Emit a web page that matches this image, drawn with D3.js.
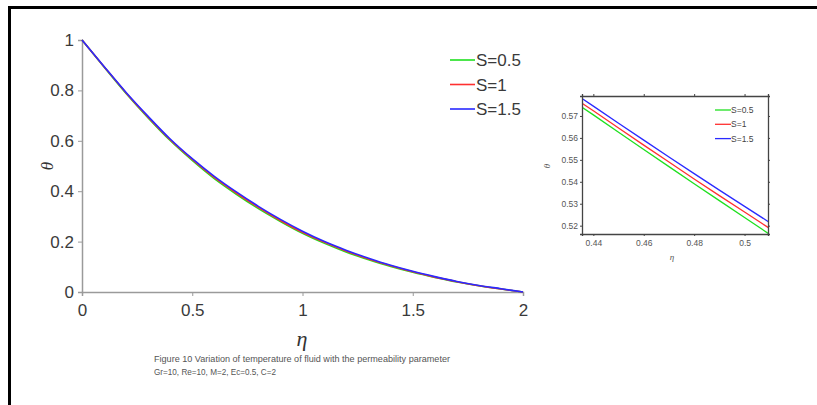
<!DOCTYPE html>
<html>
<head>
<meta charset="utf-8">
<script src="https://cdn.jsdelivr.net/npm/d3@7"></script>
<style>
  html, body { margin: 0; padding: 0; background: #fff; overflow: hidden; width: 817px; height: 405px; }
  svg { display: block; font-family: "Liberation Sans", Arial, sans-serif; }
</style>
</head>
<body>
<svg id="chart" width="817" height="405"></svg>
<script>
// Temperature profile θ(η) for three values of the permeability parameter S
const eta = [0, 0.1, 0.2, 0.3, 0.4, 0.5, 0.6, 0.7, 0.8, 0.9, 1.0,
             1.1, 1.2, 1.3, 1.4, 1.5, 1.6, 1.7, 1.8, 1.9, 2.0];
const thetaS05 = [1.000, 0.893, 0.788, 0.691, 0.601, 0.522, 0.450, 0.388, 0.331, 0.280, 0.233,
                  0.193, 0.158, 0.128, 0.101, 0.078, 0.058, 0.040, 0.025, 0.012, 0.000];
const thetaS1  = [1.000, 0.894, 0.790, 0.694, 0.604, 0.526, 0.455, 0.393, 0.336, 0.284, 0.237,
                  0.197, 0.162, 0.131, 0.104, 0.080, 0.059, 0.041, 0.025, 0.012, 0.000];
const thetaS15 = [1.000, 0.895, 0.792, 0.697, 0.607, 0.529, 0.459, 0.397, 0.340, 0.288, 0.241,
                  0.200, 0.165, 0.134, 0.106, 0.082, 0.061, 0.042, 0.026, 0.013, 0.000];

// Zoomed view around η ≈ 0.47
const etaZoom = [0.43, 0.44, 0.45, 0.46, 0.47, 0.48, 0.49, 0.50, 0.51];
const zoomS05 = [0.5783, 0.5705, 0.5626, 0.5547, 0.5469, 0.5391, 0.5314, 0.5237, 0.5160];
const zoomS1  = [0.5800, 0.5724, 0.5645, 0.5567, 0.5490, 0.5413, 0.5337, 0.5262, 0.5187];
const zoomS15 = [0.5821, 0.5745, 0.5667, 0.5590, 0.5513, 0.5437, 0.5362, 0.5288, 0.5214];

const seriesLabels = ["S=0.5", "S=1", "S=1.5"];
const seriesColors = ["#1fe01f", "#ff3030", "#2a2aff"];

const xTicks = [0, 0.5, 1, 1.5, 2];
const yTicks = [0, 0.2, 0.4, 0.6, 0.8, 1];
const xTicksZoom = [0.44, 0.46, 0.48, 0.5];
const yTicksZoom = [0.52, 0.53, 0.54, 0.55, 0.56, 0.57];

const captionLines = [
  "Figure 10 Variation of temperature of fluid with the permeability parameter",
  "Gr=10, Re=10, M=2, Ec=0.5, C=2"
];

const svg = d3.select("#chart");

// page background
svg.append("rect").attr("x", 0).attr("y", 0).attr("width", 817).attr("height", 405).attr("fill", "#fff");

// outer frame (top and left edges fall inside the page)
svg.append("path")
  .attr("d", "M9.5,420 V7.5 H830")
  .attr("fill", "none").attr("stroke", "#000").attr("stroke-width", 3);

// ---------- main panel ----------
const x = d3.scaleLinear().domain([0, 2]).range([82, 523]);
const y = d3.scaleLinear().domain([0, 1]).range([292, 40]);

const axisColor = "#9a9a9a";
const labelColor = "#3a3a3a";

const gx = svg.append("g").attr("transform", `translate(0,${y(0)})`)
  .call(d3.axisBottom(x).tickValues(xTicks).tickFormat(d3.format("")).tickSize(4).tickPadding(8));
const gy = svg.append("g").attr("transform", `translate(${x(0)},0)`)
  .call(d3.axisLeft(y).tickValues(yTicks).tickFormat(d3.format("")).tickSize(4).tickPadding(4));
[gx, gy].forEach(g => {
  g.select(".domain").attr("stroke", axisColor).attr("stroke-width", 1.5);
  g.selectAll(".tick line").attr("stroke", axisColor);
  g.selectAll(".tick text").attr("fill", labelColor).attr("font-size", 17)
    .attr("font-family", "Liberation Sans, Arial, sans-serif");
});

const mainData = [thetaS05, thetaS1, thetaS15];
const line = d3.line().x((d, i) => x(eta[i])).y(d => y(d)).curve(d3.curveMonotoneX);
mainData.forEach((vals, k) => {
  svg.append("path").datum(vals)
    .attr("d", line).attr("fill", "none")
    .attr("stroke", seriesColors[k]).attr("stroke-width", 1.6);
});

// axis titles
svg.append("text").attr("x", 302).attr("y", 346)
  .attr("text-anchor", "middle").attr("font-size", 22).attr("font-style", "italic")
  .attr("font-family", "Liberation Serif, serif").attr("fill", "#333").text("η");
svg.append("text").attr("transform", "translate(53,166) rotate(-90)")
  .attr("text-anchor", "middle").attr("font-size", 17).attr("font-style", "italic")
  .attr("font-family", "Liberation Serif, serif").attr("fill", "#333").text("θ");

// legend
const legend = svg.append("g");
seriesLabels.forEach((lab, k) => {
  const ly = 60 + k * 24.5;
  legend.append("line").attr("x1", 450).attr("x2", 475).attr("y1", ly).attr("y2", ly)
    .attr("stroke", seriesColors[k]).attr("stroke-width", 1.6);
  legend.append("text").attr("x", 476).attr("y", ly + 6)
    .attr("font-size", 17).attr("fill", labelColor).text(lab);
});

// caption
captionLines.forEach((t, i) => {
  const txt = svg.append("text").attr("x", 154).attr("y", 362 + i * 13)
    .attr("font-size", 9).attr("fill", "#555").text(t);
  if (i === 0) txt.attr("textLength", 296).attr("lengthAdjust", "spacingAndGlyphs");
  else txt.attr("textLength", 122).attr("lengthAdjust", "spacingAndGlyphs");
});

// ---------- inset panel ----------
const xi = d3.scaleLinear().domain([0.4355, 0.5093]).range([582, 768]);
const yi = d3.scaleLinear().domain([0.5162, 0.5791]).range([234, 96]);

svg.append("clipPath").attr("id", "insetClip")
  .append("rect").attr("x", 582).attr("y", 96).attr("width", 186).attr("height", 138);

const insetData = [zoomS05, zoomS1, zoomS15];
const lineZ = d3.line().x((d, i) => xi(etaZoom[i])).y(d => yi(d));
const gLines = svg.append("g").attr("clip-path", "url(#insetClip)");
insetData.forEach((vals, k) => {
  gLines.append("path").datum(vals).attr("d", lineZ).attr("fill", "none")
    .attr("stroke", seriesColors[k]).attr("stroke-width", 1.3);
});

const insetAxisColor = "#444";
const gxi = svg.append("g").attr("transform", `translate(0,234)`)
  .call(d3.axisBottom(xi).tickValues(xTicksZoom).tickFormat(d3.format("")).tickSize(2).tickPadding(4));
const gxiTop = svg.append("g").attr("transform", `translate(0,96)`)
  .call(d3.axisTop(xi).tickValues(xTicksZoom).tickFormat("").tickSize(2));
const gyi = svg.append("g").attr("transform", `translate(582,0)`)
  .call(d3.axisLeft(yi).tickValues(yTicksZoom).tickFormat(d3.format("")).tickSize(2).tickPadding(2));
const gyiRight = svg.append("g").attr("transform", `translate(768,0)`)
  .call(d3.axisRight(yi).tickValues(yTicksZoom).tickFormat("").tickSize(2));
[gxi, gxiTop, gyi, gyiRight].forEach(g => {
  g.select(".domain").attr("stroke", insetAxisColor).attr("stroke-width", 1.3);
  g.selectAll(".tick line").attr("stroke", insetAxisColor);
  g.selectAll(".tick text").attr("fill", "#555").attr("font-size", 8.5)
    .attr("font-family", "Liberation Sans, Arial, sans-serif");
});

svg.append("text").attr("x", 672).attr("y", 260).attr("text-anchor", "middle")
  .attr("font-size", 9).attr("font-style", "italic").attr("fill", "#555")
  .attr("font-family", "Liberation Serif, serif").text("η");
svg.append("text").attr("transform", "translate(550,166) rotate(-90)")
  .attr("text-anchor", "middle").attr("font-size", 9).attr("font-style", "italic")
  .attr("fill", "#555").attr("font-family", "Liberation Serif, serif").text("θ");

seriesLabels.forEach((lab, k) => {
  const ly = 110 + k * 14.3;
  svg.append("line").attr("x1", 715).attr("x2", 731).attr("y1", ly).attr("y2", ly)
    .attr("stroke", seriesColors[k]).attr("stroke-width", 1.3);
  svg.append("text").attr("x", 731).attr("y", ly + 3).attr("font-size", 8.5)
    .attr("fill", "#444").text(lab);
});
</script>
</body>
</html>
